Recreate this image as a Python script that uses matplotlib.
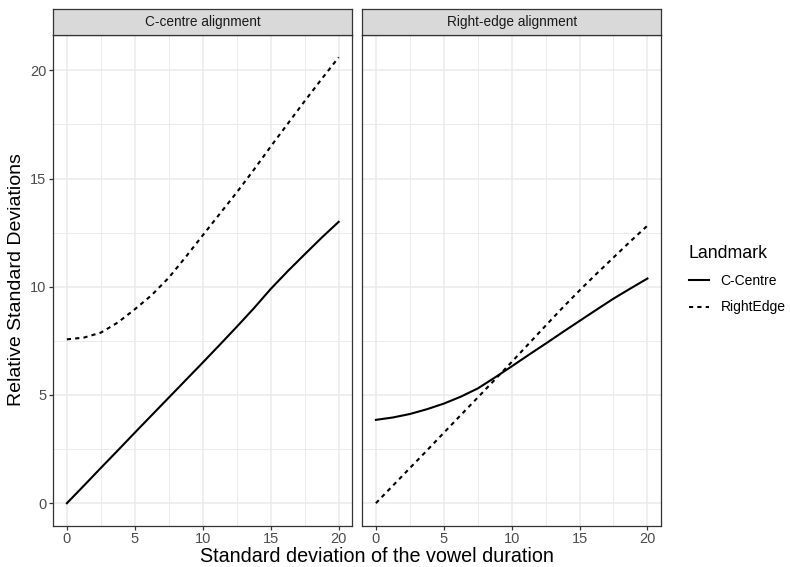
import matplotlib
matplotlib.use("Agg")
import matplotlib.pyplot as plt
from matplotlib.lines import Line2D

plt.rcParams['font.family'] = ['Liberation Sans', 'DejaVu Sans']

# standard deviation of the vowel duration (x) and the resulting relative SDs
sd_vowel = [0, 1.25, 2.5, 3.75, 5, 6.25, 7.5, 8.75, 10,
            11.25, 12.5, 13.75, 15, 16.25, 17.5, 18.75, 20]

centre_ccentre = [0, 0.81, 1.63, 2.44, 3.26, 4.07, 4.88, 5.69, 6.5,
                  7.32, 8.15, 9.0, 9.9, 10.72, 11.5, 12.27, 13.0]
centre_rightedge = [7.57, 7.65, 7.88, 8.35, 8.96, 9.62, 10.42, 11.38, 12.38,
                    13.37, 14.36, 15.4, 16.48, 17.53, 18.58, 19.6, 20.6]

edge_ccentre = [3.85, 3.96, 4.12, 4.34, 4.6, 4.92, 5.3, 5.8, 6.32,
                6.85, 7.37, 7.9, 8.42, 8.94, 9.45, 9.92, 10.38]
edge_rightedge = [0, 0.81, 1.62, 2.43, 3.25, 4.07, 4.88, 5.7, 6.52,
                  7.36, 8.2, 9.03, 9.83, 10.6, 11.35, 12.1, 12.82]

panel_titles = ['C-centre alignment', 'Right-edge alignment']
landmarks = ['C-Centre', 'RightEdge']

GRID = '#EBEBEB'
DARK = '#333333'
TICKTXT = '#4D4D4D'
DASH = (2, 2)

W, H = 790, 567
fig = plt.figure(figsize=(W / 100, H / 100), dpi=100)


def px_box(x0, y0, x1, y1):
    return [x0 / W, 1 - y1 / H, (x1 - x0) / W, (y1 - y0) / H]


panels = [
    (53.3, 352.3, centre_ccentre, centre_rightedge),
    (362.3, 661.0, edge_ccentre, edge_rightedge),
]

for i, (left, right, solid, dashed) in enumerate(panels):
    ax = fig.add_axes(px_box(left, 35, right, 525.5))
    ax.set_xlim(-1, 21)
    ax.set_ylim(-1.03, 21.63)
    ax.set_xticks([0, 5, 10, 15, 20])
    ax.set_xticks([2.5, 7.5, 12.5, 17.5], minor=True)
    ax.set_yticks([0, 5, 10, 15, 20])
    ax.set_yticks([2.5, 7.5, 12.5, 17.5], minor=True)
    ax.grid(True, which='major', color=GRID, linewidth=1.1)
    ax.grid(True, which='minor', color=GRID, linewidth=0.7)
    ax.set_axisbelow(True)
    for s in ax.spines.values():
        s.set_color(DARK)
        s.set_linewidth(0.9)
    ax.tick_params(which='major', length=3, width=0.9, color=DARK,
                   labelsize=10.5, labelcolor=TICKTXT, pad=2)
    ax.tick_params(which='minor', length=0)
    if i > 0:
        ax.tick_params(axis='y', which='major', length=0, labelleft=False)

    ax.plot(sd_vowel, solid, color='black', linewidth=1.5)
    ax.plot(sd_vowel, dashed, color='black', linewidth=1.5, linestyle=(0, DASH))

    # facet strip
    strip = fig.add_axes(px_box(left, 9, right, 35))
    strip.set_facecolor('#D9D9D9')
    strip.set_xticks([])
    strip.set_yticks([])
    for s in strip.spines.values():
        s.set_color(DARK)
        s.set_linewidth(0.9)
    strip.text(0.5, 0.5, panel_titles[i], ha='center', va='center',
               fontsize=9.8, color='#1A1A1A', transform=strip.transAxes)

fig.text(377 / W, 1 - 556 / H, 'Standard deviation of the vowel duration',
         ha='center', va='center', fontsize=14.2)
fig.text(17 / W, 1 - 280 / H, 'Relative Standard Deviations',
         ha='center', va='center', rotation=90, fontsize=14)

handles = [
    Line2D([], [], color='black', linewidth=1.5),
    Line2D([], [], color='black', linewidth=1.5, linestyle=(0, DASH)),
]
fig.legend(handles, landmarks, title='Landmark', loc='upper left',
           bbox_to_anchor=(676 / W, 1 - 232 / H), frameon=False,
           fontsize=10, title_fontsize=12.8, handlelength=1.5,
           handletextpad=0.8, labelspacing=0.9, alignment='left')

fig.savefig('out.png', dpi=100)
